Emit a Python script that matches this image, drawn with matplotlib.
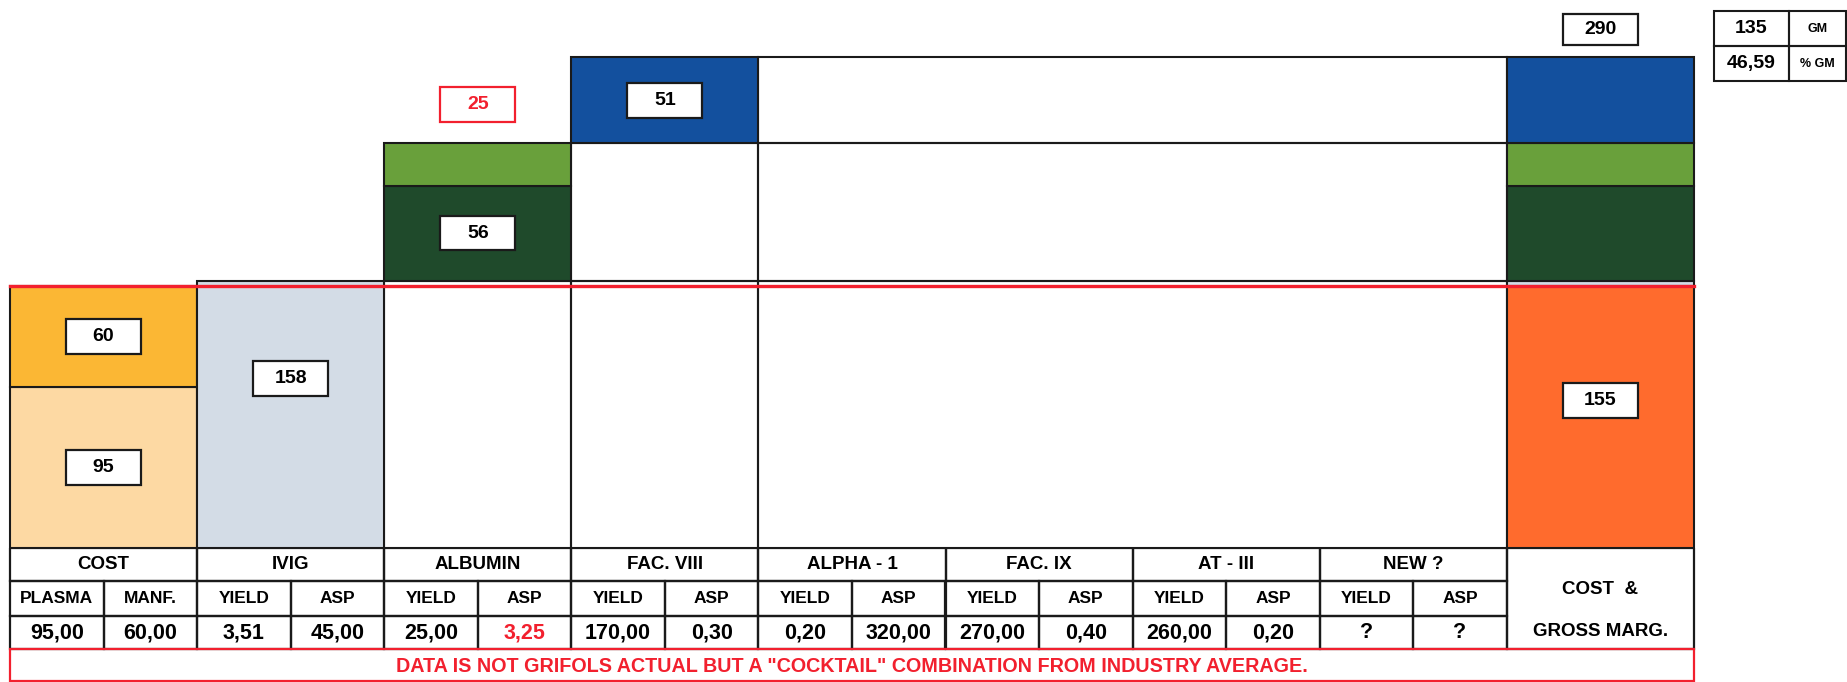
import matplotlib
matplotlib.use("Agg")
import matplotlib.pyplot as plt
from matplotlib.patches import Rectangle

plt.rcParams['font.family'] = ['Liberation Sans', 'DejaVu Sans']

# cost build-up per litre of plasma
plasma_cost = 95
manf_cost = 60
# revenue per product (yield x ASP)
ivig_rev = 158
albumin_rev = 56
albumin_extra = 25
fac8_rev = 51
total_rev = 290
gross_margin = 135
gm_pct = "46,59"

products = ["COST", "IVIG", "ALBUMIN", "FAC. VIII", "ALPHA - 1", "FAC. IX", "AT - III", "NEW ?"]
sub_heads = [("PLASMA", "MANF.")] + [("YIELD", "ASP")] * 7
sub_values = [("95,00", "60,00"), ("3,51", "45,00"), ("25,00", "3,25"), ("170,00", "0,30"),
              ("0,20", "320,00"), ("270,00", "0,40"), ("260,00", "0,20"), ("?", "?")]
red_values = [(2, 1)]
note = 'DATA IS NOT GRIFOLS ACTUAL BUT A "COCKTAIL" COMBINATION FROM INDUSTRY AVERAGE.'

PEACH = "#FDD9A3"
AMBER = "#FBB734"
GREY = "#D3DCE6"
DKGREEN = "#1F4A2B"
LTGREEN = "#69A03B"
BLUE = "#13509E"
ORANGE = "#FF6B2D"
RED = "#F2202E"
INK = "#1a1a1a"

W, H = 1847, 682
col_px = 187.1
x0_px = 10
base_px = 548
scale = 1.693  # px per unit

fig = plt.figure(figsize=(W / 100, H / 100), dpi=100)
xlim = (-x0_px / col_px, (W - x0_px) / col_px)

# ---- chart part ----
ax = fig.add_axes([0, (H - base_px) / H, 1, base_px / H])
ax.set_xlim(*xlim)
ax.set_ylim(0, base_px / scale)
ax.axis('off')

kw = dict(width=1, edgecolor=INK, linewidth=1.5)
total_cost = plasma_cost + manf_cost
alb_top = ivig_rev + albumin_rev + albumin_extra

# empty frames behind the products
ax.bar(2.5, ivig_rev, fill=False, **kw)
ax.bar(3.5, [ivig_rev, alb_top - ivig_rev], bottom=[0, ivig_rev], fill=False, **kw)
ax.bar(6, [ivig_rev, alb_top - ivig_rev, fac8_rev],
       bottom=[0, ivig_rev, alb_top],
       fill=False, width=4, edgecolor=INK, linewidth=1.5)

ax.bar(0.5, plasma_cost, color=PEACH, **kw)
ax.bar(0.5, manf_cost, bottom=plasma_cost, color=AMBER, **kw)
ax.bar(1.5, ivig_rev, color=GREY, **kw)
ax.bar(2.5, albumin_rev, bottom=ivig_rev, color=DKGREEN, **kw)
ax.bar(2.5, albumin_extra, bottom=ivig_rev + albumin_rev, color=LTGREEN, **kw)
ax.bar(3.5, fac8_rev, bottom=alb_top, color=BLUE, **kw)

# cost & gross margin column
stack = [(total_cost, ORANGE), (ivig_rev - total_cost, GREY), (albumin_rev, DKGREEN),
         (albumin_extra, LTGREEN), (fac8_rev, BLUE)]
b = 0
for h, c in stack:
    ax.bar(8.5, h, bottom=b, color=c, **kw)
    b += h

ax.plot([0, 9], [total_cost, total_cost], color=RED, lw=2.4, zorder=6)


def label(x, y, txt, color="black", h=20.5):
    ax.add_patch(Rectangle((x - 0.2, y - h / 2), 0.4, h, facecolor="white",
                           edgecolor=color if color != "black" else INK, lw=1.6, zorder=7))
    ax.text(x, y, txt, ha="center", va="center", fontsize=14, fontweight="bold",
            color=color, zorder=8)


label(0.5, plasma_cost / 2, str(plasma_cost))
label(0.5, plasma_cost + manf_cost / 2, str(manf_cost))
label(1.5, 100, str(ivig_rev))
label(2.5, ivig_rev + albumin_rev / 2, str(albumin_rev))
label(2.5, 262, str(albumin_extra), color=RED)
label(3.5, alb_top + fac8_rev / 2, str(fac8_rev))
label(8.5, 87, str(total_cost))
label(8.5, 306.5, str(total_rev), h=18.3)

# GM box top right
gx0, gx1, gx2 = 9.107, 9.508, 9.813
gy0, gy1, gy2 = 275.6, 296.3, 317.0
for (xa, xb) in [(gx0, gx1), (gx1, gx2)]:
    for (ya, yb) in [(gy0, gy1), (gy1, gy2)]:
        ax.add_patch(Rectangle((xa, ya), xb - xa, yb - ya, fill=False, edgecolor=INK, lw=1.5))
ax.text((gx0 + gx1) / 2, (gy1 + gy2) / 2, str(gross_margin), ha="center", va="center",
        fontsize=14, fontweight="bold")
ax.text((gx0 + gx1) / 2, (gy0 + gy1) / 2, gm_pct, ha="center", va="center",
        fontsize=14, fontweight="bold")
ax.text((gx1 + gx2) / 2, (gy1 + gy2) / 2, "GM", ha="center", va="center",
        fontsize=9, fontweight="bold")
ax.text((gx1 + gx2) / 2, (gy0 + gy1) / 2, "% GM", ha="center", va="center",
        fontsize=9, fontweight="bold")

# ---- table part ----
tb = fig.add_axes([0, 0, 1, (H - base_px) / H])
tb.set_xlim(*xlim)
tb.set_ylim(0, H - base_px)
tb.axis('off')


def cell(x, y, w, h, txt="", size=13, color="black"):
    tb.add_patch(Rectangle((x, y), w, h, fill=False, edgecolor=INK, lw=1.6))
    if txt:
        tb.text(x + w / 2, y + h / 2, txt, ha="center", va="center", fontsize=size,
                fontweight="bold", color=color)


for i, name in enumerate(products):
    cell(i, 101, 1, 33, name, size=13.5)
    for j in range(2):
        cell(i + 0.5 * j, 66, 0.5, 35, sub_heads[i][j], size=12.5)
        col = RED if (i, j) in red_values else "black"
        cell(i + 0.5 * j, 33, 0.5, 33, sub_values[i][j], size=15.5, color=col)

cell(8, 33, 1, 101)
tb.text(8.5, 92, "COST  &", ha="center", va="center", fontsize=13.5, fontweight="bold")
tb.text(8.5, 51, "GROSS MARG.", ha="center", va="center", fontsize=13.5, fontweight="bold")

tb.add_patch(Rectangle((0, 1), 9, 32, fill=False, edgecolor=RED, lw=1.6))
tb.text(4.5, 15, note, ha="center", va="center", fontsize=14.2, fontweight="bold", color=RED)

fig.savefig("out.png", dpi=100)
